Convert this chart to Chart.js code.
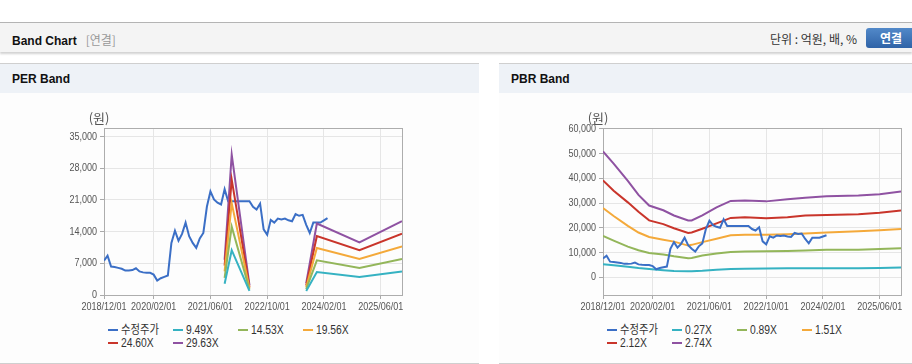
<!DOCTYPE html>
<html>
<head>
<meta charset="utf-8">
<script src="https://cdn.jsdelivr.net/npm/chart.js@4.4.1/dist/chart.umd.min.js"></script>
<style>
  body { margin: 0; width: 912px; height: 364px; overflow: hidden; background: #fff; position: relative;
         font-family: 'Liberation Sans', 'Noto Sans CJK KR', sans-serif; }
  .topbar { position: absolute; left: 0; top: 22px; width: 912px; height: 29px; border-top: 1px solid #b4b4b4;
            background: #f4f4f4; box-shadow: 0 2px 2px rgba(0,0,0,.18); }
  .topbar .ttl { position: absolute; left: 12px; top: 8px; font-size: 12px; font-weight: bold; color: #111; }
  .topbar .sub { color: #999; font-weight: normal; margin-left: 9px; font-family: 'Noto Sans CJK KR', sans-serif; font-size: 12px; }
  .topbar .unit { position: absolute; left: 770px; top: 7px; font-size: 12px; color: #333; font-family: 'Noto Sans CJK KR', sans-serif; }
  .btn { position: absolute; left: 866px; top: 5px; width: 50px; height: 20px; border-radius: 3px;
         background: linear-gradient(#5289c9, #2f63a7); color: #fff; font-weight: bold; font-size: 12px;
         line-height: 20px; text-align: center; font-family: 'Noto Sans CJK KR', sans-serif; }
  .panel { position: absolute; top: 63px; height: 299px; border-top: 1px solid #cfcfcf; border-bottom: 1px solid #cfcfcf; background: #fdfdfd; }
  .panel .hd { box-sizing: border-box; height: 29px; padding: 2px 0 0 12px; line-height: 27px; background: #eef2f7;
               font-size: 12px; font-weight: bold; color: #111; }
  canvas { position: absolute; top: 100px; }
  .legend { position: absolute; top: 324px; display: grid; grid-template-columns: repeat(4, 65px); }
  .legend div { height: 13px; line-height: 13px; font-size: 12px; color: #333; white-space: nowrap; }
  .legend i { display: inline-block; width: 10px; height: 2px; margin-right: 3px; vertical-align: middle; position: relative; top: -1px; }
  .legend span { display: inline-block; transform: scaleX(0.86); transform-origin: left center; }
</style>
</head>
<body>
<div class="topbar">
  <div class="ttl">Band Chart<span class="sub">[연결]</span></div>
  <div class="unit">단위 : 억원, 배, %</div>
  <div class="btn">연결</div>
</div>
<div class="panel" style="left:0;width:479px"><div class="hd">PER Band</div></div>
<div class="panel" style="left:499px;width:413px"><div class="hd">PBR Band</div></div>
<canvas id="perChart" width="479" height="220" style="left:0"></canvas>
<canvas id="pbrChart" width="413" height="220" style="left:499px"></canvas>
<div class="legend" id="perLegend" style="left:108px"></div>
<div class="legend" id="pbrLegend" style="left:607px"></div>

<script>
// months on the x axis, 2018/12 .. 2025/12
const months = [];
for (let y = 2018, m = 12; months.length < 85; ) {
  months.push(y + '/' + String(m).padStart(2, '0'));
  m++;
  if (m > 12) { m = 1; y++; }
}
const xTickLabels = ['2018/12/01', '2020/02/01', '2021/06/01', '2022/10/01', '2024/02/01', '2025/06/01'];
const colors = ['#3b6fc6', '#35b2c2', '#93b65a', '#f4a93a', '#c9352b', '#8f52a2'];

// adjusted close, monthly from 2018/12
const priceStart = '2018/12';
const priceValues = [
  7600, 8700, 6300, 6200, 6000, 5800, 5400, 5400, 5500, 5900, 5200, 5000,
  4900, 4900, 4500, 3200, 3700, 4000, 4300, 11500, 14200, 12000, 13500, 16000,
  13000, 11500, 10400, 12500, 13700, 19500, 22900, 21100, 20400, 20000, 23400, 20700,
  20700, 20700, 20700, 20700, 20700, 20700, 19500, 18900, 20200, 14500, 13300, 16600,
  16000, 16900, 16700, 16900, 16500, 16300, 17900, 17500, 17700, 15500, 13700, 16000,
  16000, 16000, 16500, 17000
];

// PER band
const perNames = ['9.49X', '14.53X', '19.56X', '24.60X', '29.63X'];
const perDates = ['2021/10', '2021/12', '2022/05', '2023/01', '2023/09', '2023/12', '2024/12', '2025/12'];
const per949  = [2500,  9900, 900, null,  900,  5080,  3980,  5220];
const per1453 = [3800, 15100, 1200, null, 1300,  7650,  5970,  7960];
const per1956 = [5200, 20300, 1500, null, 1700, 10400,  7960, 10750];
const per2460 = [6500, 25500, 1800, null, 2100, 13000,  9900, 13550];
const per2963 = [7800, 31000, 2200, null, 2600, 15800, 11600, 16300];
const perYTicks = [0, 7000, 14000, 21000, 28000, 35000];

// PBR band
const pbrNames = ['0.27X', '0.89X', '1.51X', '2.12X', '2.74X'];
const pbrDates = ['2018/12', '2019/03', '2019/07', '2019/10', '2020/01', '2020/05', '2020/08', '2020/12', '2021/01', '2021/04',
                  '2021/08', '2021/12', '2022/04', '2022/10', '2023/04', '2023/09', '2024/03', '2024/12', '2025/06', '2025/12'];
const pbr027 = [5300, 4800, 4200, 3700, 3300, 2800, 2500, 2400, 2400, 2600, 3000, 3300, 3400, 3500, 3600, 3600, 3600, 3600, 3700, 3900];
const pbr089 = [16700, 14800, 12400, 10900, 9800, 9200, 8500, 7700, 7800, 8800, 9600, 10200, 10400, 10500, 10600, 10800, 11100, 11100, 11400, 11700];
const pbr151 = [28000, 24800, 20800, 18100, 16300, 15200, 14400, 12800, 13100, 14200, 15600, 17000, 17200, 17200, 17400, 17700, 18100, 18600, 19000, 19500];
const pbr212 = [39200, 35000, 30300, 26500, 23000, 21500, 19800, 17900, 18100, 19600, 21800, 24000, 24300, 23900, 24300, 25000, 25200, 25500, 26100, 27000];
const pbr274 = [50900, 46000, 39000, 33300, 29000, 27100, 25000, 23000, 23000, 25000, 28300, 30900, 31100, 30700, 31600, 32200, 32800, 33100, 33600, 34700];
const pbrYTicks = [0, 10000, 20000, 30000, 40000, 50000, 60000];

const pos = d => months.indexOf(d);
const points = (dates, vals) => dates.map((d, i) => ({ x: pos(d), y: vals[i] }));
const pricePoints = priceValues.map((v, i) => ({ x: pos(priceStart) + i, y: v }));

// narrow-looking tick text: draw squeezed horizontally
function squeezed(ctx, text, x, y, align) {
  ctx.save();
  ctx.translate(x, y);
  ctx.scale(0.82, 1);
  ctx.textAlign = align;
  ctx.fillText(text, 0, 0);
  ctx.restore();
}

const framePlugin = {
  id: 'frame',
  beforeDatasetsDraw(chart) {
    const { ctx, chartArea: a } = chart;
    ctx.save();
    ctx.strokeStyle = '#adadad';
    ctx.lineWidth = 1;
    ctx.strokeRect(Math.round(a.left) + 0.5, Math.round(a.top) + 0.5, Math.round(a.right - a.left), Math.round(a.bottom - a.top));
    ctx.restore();
  },
  afterDraw(chart) {
    const { ctx, chartArea: a, scales } = chart;
    ctx.save();
    ctx.fillStyle = '#555';
    ctx.textBaseline = 'middle';
    ctx.font = "11px 'Liberation Sans', sans-serif";
    scales.x.ticks.forEach(t => squeezed(ctx, months[t.value] + '/01', scales.x.getPixelForValue(t.value), a.bottom + 12, 'center'));
    scales.y.ticks.forEach(t => squeezed(ctx, t.value.toLocaleString('en-US'), a.left - 7, scales.y.getPixelForValue(t.value), 'right'));
    ctx.font = "13px 'Noto Sans CJK KR', sans-serif";
    ctx.textAlign = 'center';
    ctx.fillText('(원)', a.left - 5, a.top - 10);
    ctx.restore();
  }
};

function makeChart(id, legendId, bandDates, bands, names, yMin, yMax, yTicks, rightPad, priceBehind) {
  const datasets = [{
    label: '수정주가', data: pricePoints, borderColor: colors[0], order: priceBehind ? 1 : 0
  }];
  bands.forEach((b, i) => datasets.push({ label: names[i], data: points(bandDates, b), borderColor: colors[i + 1], order: 0 }));
  datasets.forEach(d => Object.assign(d, { borderWidth: 2, pointRadius: 0, tension: 0, fill: false, spanGaps: false }));

  new Chart(document.getElementById(id), {
    type: 'line',
    data: { datasets },
    options: {
      responsive: false,
      animation: false,
      layout: { padding: { top: 28, right: rightPad, left: 0, bottom: 0 } },
      plugins: { legend: { display: false }, tooltip: { enabled: false } },
      scales: {
        x: {
          type: 'linear', min: 0, max: 84,
          afterBuildTicks: s => { s.ticks = xTickLabels.map(l => ({ value: pos(l.slice(0, 7)) })); },
          afterFit: s => { s.height = 25; },
          ticks: { display: false },
          grid: { color: '#e6e6e6', tickColor: '#aaa', tickLength: 4 },
          border: { display: false }
        },
        y: {
          min: yMin, max: yMax,
          afterBuildTicks: s => { s.ticks = yTicks.map(v => ({ value: v })); },
          afterFit: s => { s.width = 104; },
          ticks: { display: false },
          grid: { color: '#e6e6e6', tickColor: '#aaa', tickLength: 4 },
          border: { display: false }
        }
      }
    },
    plugins: [framePlugin]
  });

  const legend = document.getElementById(legendId);
  datasets.forEach(d => {
    const item = document.createElement('div');
    item.innerHTML = '<i style="background:' + d.borderColor + '"></i><span>' + d.label + '</span>';
    legend.appendChild(item);
  });
}

makeChart('perChart', 'perLegend', perDates, [per949, per1453, per1956, per2460, per2963], perNames,
          0, 36900, perYTicks, 77, true);
makeChart('pbrChart', 'pbrLegend', pbrDates, [pbr027, pbr089, pbr151, pbr212, pbr274], pbrNames,
          -7200, 60400, pbrYTicks, 11, false);
</script>
</body>
</html>
